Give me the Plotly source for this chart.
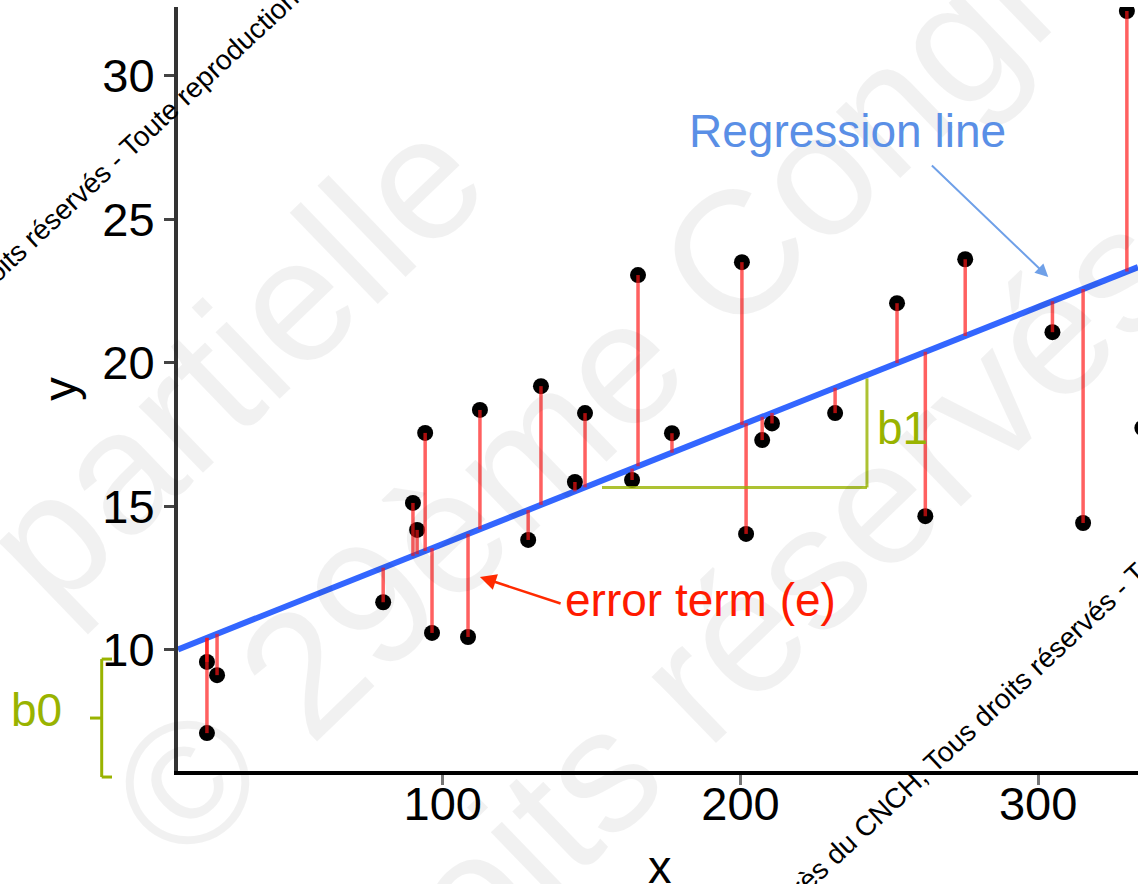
import plotly.graph_objects as go

# ---- data ----
x_vals = [20.8, 20.8, 24.2, 80.0, 90.0, 91.4, 94.1, 96.4, 108.5, 112.5,
          128.7, 133.0, 144.4, 147.8, 163.6, 165.6, 177.0, 200.5, 201.9, 207.3,
          210.6, 231.8, 252.6, 262.1, 275.5, 304.8, 315.1, 329.8, 335.0]
y_vals = [7.09, 9.57, 9.11, 11.65, 15.11, 14.17, 17.55, 10.58, 10.44, 18.35,
          13.82, 19.18, 15.84, 18.24, 15.91, 23.05, 17.54, 23.50, 14.03, 17.30,
          17.88, 18.24, 22.07, 14.65, 23.60, 21.06, 14.41, 32.25, 17.72]
b0 = 9.55          # intercept
b1 = 0.0413        # slope
x_range = [11.08, 333.54]
y_range = [5.77, 32.39]
x_ticks = [100, 200, 300]
y_ticks = [10, 15, 20, 25, 30]
b1_bracket_x = [153.5, 242.5]
b1_bracket_y = [15.65, 19.45]
b0_bracket_top = 9.67
b0_bracket_bottom = 5.56

FONT = "Liberation Sans, Arial, sans-serif"
OLIVE = "#99B300"

W, H = 1138, 884
ML, MR, MT, MB = 178, 0, 7, 113
PW, PH = W - ML - MR, H - MT - MB


def px_x(px):
    return (px - ML) / PW


def px_y(py):
    return (H - MB - py) / PH


def y_paper(y):
    return (y - y_range[0]) / (y_range[1] - y_range[0])


fig = go.Figure()

# regression line
fig.add_trace(go.Scatter(
    x=x_range, y=[b0 + b1 * v for v in x_range], mode="lines",
    line=dict(color="#3366FF", width=6), hoverinfo="skip", showlegend=False))

# points
fig.add_trace(go.Scatter(
    x=x_vals, y=y_vals, mode="markers",
    marker=dict(color="black", size=16), showlegend=False))

# residual segments
seg_x, seg_y = [], []
for xv, yv in zip(x_vals, y_vals):
    seg_x += [xv, xv, None]
    seg_y += [yv, b0 + b1 * xv, None]
fig.add_trace(go.Scatter(
    x=seg_x, y=seg_y, mode="lines",
    line=dict(color="rgba(255,20,20,0.68)", width=3.5),
    hoverinfo="skip", showlegend=False))

shapes = []
# b1 bracket
shapes.append(dict(type="line", xref="x", yref="y",
                   x0=b1_bracket_x[0], x1=b1_bracket_x[1],
                   y0=b1_bracket_y[0], y1=b1_bracket_y[0],
                   line=dict(color="rgba(153,179,0,0.8)", width=3)))
shapes.append(dict(type="line", xref="x", yref="y",
                   x0=b1_bracket_x[1], x1=b1_bracket_x[1],
                   y0=b1_bracket_y[0], y1=b1_bracket_y[1],
                   line=dict(color="rgba(153,179,0,0.8)", width=3)))
# b0 bracket (outside plot, paper coords)
bx = px_x(101.7)
btick = px_x(112)
bmid = px_x(90)
top = y_paper(b0_bracket_top)
bot = y_paper(b0_bracket_bottom)
mid = (top + bot) / 2
for (x0, y0, x1, y1) in [(bx, bot, bx, top), (bx, top, btick, top),
                         (bx, bot, btick, bot), (bmid, mid, bx, mid)]:
    shapes.append(dict(type="line", xref="paper", yref="paper",
                       x0=x0, y0=y0, x1=x1, y1=y1,
                       line=dict(color=OLIVE, width=3)))

annotations = []
# watermark (large, faint)
wm_color = "rgba(0,0,0,0.055)"
for text, cx, cy in [("partielle", 232, 360),
                     ("© 29ème Congrès", 652, 333),
                     ("droits réservés", 735, 640)]:
    annotations.append(dict(text=text, xref="paper", yref="paper",
                            x=px_x(cx), y=px_y(cy), showarrow=False,
                            xanchor="center", yanchor="middle", textangle=-44,
                            font=dict(family=FONT, size=175, color=wm_color)))
# small black watermark lines
full_wm = "© 29ème Congrès du CNCH, Tous droits réservés - Toute reproduction interdite"
for cx, cy in [(12, 256), (1017, 684)]:
    annotations.append(dict(text=full_wm, xref="paper", yref="paper",
                            x=px_x(cx), y=px_y(cy), showarrow=False,
                            xanchor="center", yanchor="middle", textangle=-43,
                            font=dict(family=FONT, size=28, color="black")))

# x axis title (placed as text so it can sit partly below the page edge)
annotations.append(dict(text="x", xref="paper", yref="paper",
                        x=px_x(660), y=px_y(866), showarrow=False,
                        xanchor="center", yanchor="middle",
                        font=dict(family=FONT, size=47, color="black")))

# labels
annotations.append(dict(text="Regression line", xref="x", yref="y",
                        x=236.1, y=28.07, showarrow=False,
                        xanchor="center", yanchor="middle",
                        font=dict(family=FONT, size=46, color="#5A8FE6")))
annotations.append(dict(text="", xref="x", yref="y", axref="x", ayref="y",
                        x=303.4, y=22.98, ax=263.8, ay=26.92, showarrow=True,
                        arrowhead=2, arrowsize=1.3, arrowwidth=2,
                        arrowcolor="#6FA0E8"))
annotations.append(dict(text="error term (e)", xref="x", yref="y",
                        x=186.5, y=11.73, showarrow=False,
                        xanchor="center", yanchor="middle",
                        font=dict(family=FONT, size=46, color="#FF1A00")))
annotations.append(dict(text="", xref="x", yref="y", axref="x", ayref="y",
                        x=112.5, y=12.53, ax=140.1, ay=11.59, showarrow=True,
                        arrowhead=2, arrowsize=1.3, arrowwidth=2.5,
                        arrowcolor="#FF2A00"))
annotations.append(dict(text="b1", xref="x", yref="y",
                        x=254.6, y=17.72, showarrow=False,
                        xanchor="center", yanchor="middle",
                        font=dict(family=FONT, size=46, color=OLIVE)))
annotations.append(dict(text="b0", xref="paper", yref="paper",
                        x=px_x(36), y=px_y(710), showarrow=False,
                        xanchor="center", yanchor="middle",
                        font=dict(family=FONT, size=46, color=OLIVE)))

fig.update_layout(
    width=W, height=H,
    margin=dict(l=ML, r=MR, t=MT, b=MB, pad=0, autoexpand=False),
    paper_bgcolor="white", plot_bgcolor="white",
    showlegend=False,
    font=dict(family=FONT, size=47, color="black"),
    shapes=shapes, annotations=annotations,
    xaxis=dict(range=x_range, tickvals=x_ticks, ticktext=[str(v) for v in x_ticks],
               automargin=False,
               showgrid=False, zeroline=False, showline=True,
               linecolor="black", linewidth=4, ticks="outside", ticklen=10,
               tickwidth=2.5, tickcolor="#777777", ticklabelstandoff=-21,
               tickfont=dict(family=FONT, size=47, color="black")),
    yaxis=dict(range=y_range, tickvals=y_ticks, ticktext=[str(v) for v in y_ticks],
               automargin=False,
               showgrid=False, zeroline=False, showline=True,
               linecolor="#333333", linewidth=4, ticks="outside", ticklen=10,
               tickwidth=2.5, tickcolor="#444444",
               tickfont=dict(family=FONT, size=47, color="black"),
               title=dict(text="y", font=dict(family=FONT, size=47), standoff=12)),
)

fig.write_html("out.html", config={"displayModeBar": False},
               post_script="document.body.style.margin='0';document.body.style.overflow='hidden';")
